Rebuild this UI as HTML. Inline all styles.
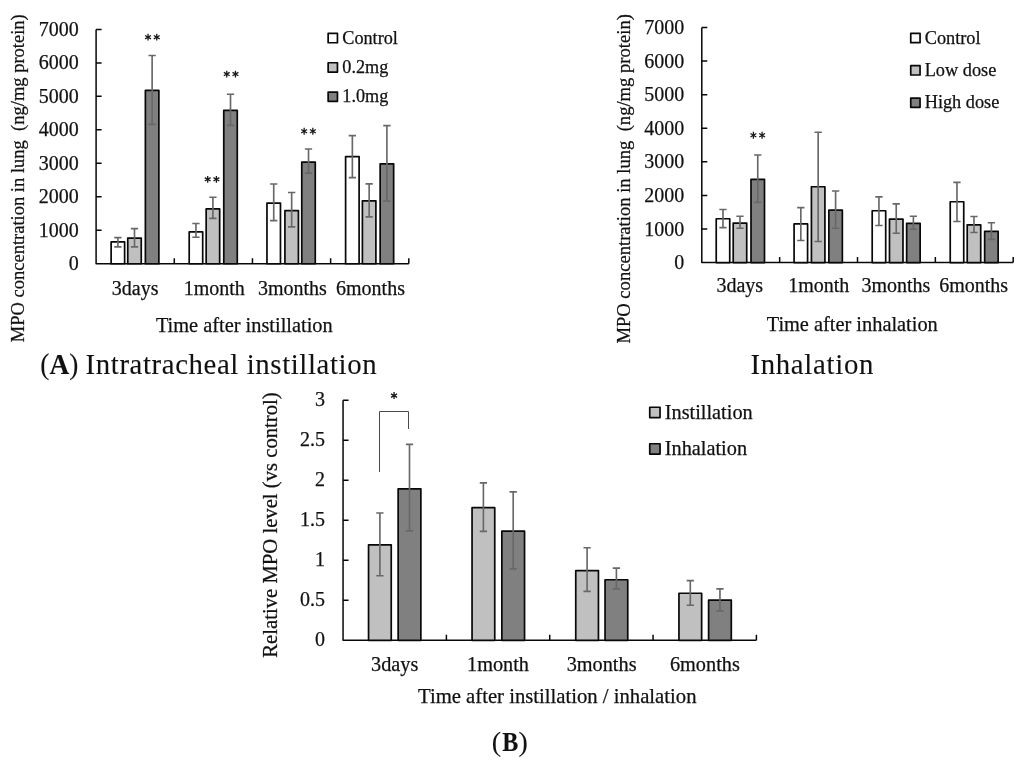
<!DOCTYPE html>
<html><head><meta charset="utf-8"><style>
html,body{margin:0;padding:0;background:#fff;width:1024px;height:763px;overflow:hidden}
svg{display:block;will-change:transform}
text{font-family:"Liberation Serif", serif;fill:#111;stroke:#111;stroke-width:0.25px}
</style></head><body>
<svg width="1024" height="763" viewBox="0 0 1024 763">
<path d="M96.1 29.4V263.75H408.8" stroke="#080808" stroke-width="1.5" fill="none" stroke-linejoin="round"/>
<path d="M96.1 29.40H101.6M96.1 62.88H101.6M96.1 96.36H101.6M96.1 129.84H101.6M96.1 163.31H101.6M96.1 196.79H101.6M96.1 230.27H101.6M174.28 263.75V258.25M252.45 263.75V258.25M330.62 263.75V258.25M408.80 263.75V258.25" stroke="#080808" stroke-width="1.5" fill="none"/>
<text x="78.8" y="35.9" font-size="20" text-anchor="end" font-weight="normal">7000</text>
<text x="78.8" y="69.37857142857143" font-size="20" text-anchor="end" font-weight="normal">6000</text>
<text x="78.8" y="102.85714285714286" font-size="20" text-anchor="end" font-weight="normal">5000</text>
<text x="78.8" y="136.3357142857143" font-size="20" text-anchor="end" font-weight="normal">4000</text>
<text x="78.8" y="169.81428571428572" font-size="20" text-anchor="end" font-weight="normal">3000</text>
<text x="78.8" y="203.29285714285714" font-size="20" text-anchor="end" font-weight="normal">2000</text>
<text x="78.8" y="236.77142857142857" font-size="20" text-anchor="end" font-weight="normal">1000</text>
<text x="78.8" y="270.25" font-size="20" text-anchor="end" font-weight="normal">0</text>
<rect x="111.12" y="241.95" width="13.50" height="21.80" fill="#ffffff" stroke="#080808" stroke-width="1.7" stroke-linejoin="round"/>
<rect x="127.75" y="238.05" width="13.50" height="25.70" fill="#c0c0c0" stroke="#080808" stroke-width="1.7" stroke-linejoin="round"/>
<rect x="145.38" y="90.45" width="13.50" height="173.30" fill="#808080" stroke="#080808" stroke-width="1.7" stroke-linejoin="round"/>
<path d="M117.87 237.60V246.80M114.22 237.60H121.52M114.22 246.80H121.52" stroke="#686868" stroke-width="1.65" fill="none"/>
<path d="M134.50 228.60V246.80M130.85 228.60H138.15M130.85 246.80H138.15" stroke="#686868" stroke-width="1.65" fill="none"/>
<path d="M152.13 55.50V124.30M148.48 55.50H155.78M148.48 124.30H155.78" stroke="#686868" stroke-width="1.65" fill="none"/>
<rect x="189.20" y="231.85" width="13.50" height="31.90" fill="#ffffff" stroke="#080808" stroke-width="1.7" stroke-linejoin="round"/>
<rect x="206.16" y="208.95" width="13.50" height="54.80" fill="#c0c0c0" stroke="#080808" stroke-width="1.7" stroke-linejoin="round"/>
<rect x="223.77" y="110.45" width="13.50" height="153.30" fill="#808080" stroke="#080808" stroke-width="1.7" stroke-linejoin="round"/>
<path d="M195.95 223.50V237.20M192.30 223.50H199.60M192.30 237.20H199.60" stroke="#686868" stroke-width="1.65" fill="none"/>
<path d="M212.91 197.20V218.30M209.26 197.20H216.56M209.26 218.30H216.56" stroke="#686868" stroke-width="1.65" fill="none"/>
<path d="M230.52 94.20V125.30M226.87 94.20H234.17M226.87 125.30H234.17" stroke="#686868" stroke-width="1.65" fill="none"/>
<rect x="266.97" y="203.05" width="13.50" height="60.70" fill="#ffffff" stroke="#080808" stroke-width="1.7" stroke-linejoin="round"/>
<rect x="284.92" y="210.55" width="13.50" height="53.20" fill="#c0c0c0" stroke="#080808" stroke-width="1.7" stroke-linejoin="round"/>
<rect x="301.77" y="162.05" width="13.50" height="101.70" fill="#808080" stroke="#080808" stroke-width="1.7" stroke-linejoin="round"/>
<path d="M273.72 184.00V220.60M270.07 184.00H277.37M270.07 220.60H277.37" stroke="#686868" stroke-width="1.65" fill="none"/>
<path d="M291.67 192.50V226.90M288.02 192.50H295.32M288.02 226.90H295.32" stroke="#686868" stroke-width="1.65" fill="none"/>
<path d="M308.52 149.00V173.10M304.87 149.00H312.17M304.87 173.10H312.17" stroke="#686868" stroke-width="1.65" fill="none"/>
<rect x="345.61" y="156.55" width="13.50" height="107.20" fill="#ffffff" stroke="#080808" stroke-width="1.7" stroke-linejoin="round"/>
<rect x="362.40" y="200.85" width="13.50" height="62.90" fill="#c0c0c0" stroke="#080808" stroke-width="1.7" stroke-linejoin="round"/>
<rect x="380.15" y="163.85" width="13.50" height="99.90" fill="#808080" stroke="#080808" stroke-width="1.7" stroke-linejoin="round"/>
<path d="M352.36 135.60V177.60M348.71 135.60H356.01M348.71 177.60H356.01" stroke="#686868" stroke-width="1.65" fill="none"/>
<path d="M369.15 183.80V216.90M365.50 183.80H372.80M365.50 216.90H372.80" stroke="#686868" stroke-width="1.65" fill="none"/>
<path d="M386.90 125.60V201.00M383.25 125.60H390.55M383.25 201.00H390.55" stroke="#686868" stroke-width="1.65" fill="none"/>
<text x="135.2" y="294.6" font-size="20" text-anchor="middle" font-weight="normal">3days</text>
<text x="214.3" y="294.6" font-size="20" text-anchor="middle" font-weight="normal">1month</text>
<text x="292.4" y="294.6" font-size="20" text-anchor="middle" font-weight="normal">3months</text>
<text x="370.5" y="294.6" font-size="20" text-anchor="middle" font-weight="normal">6months</text>
<text x="155.9" y="331.7" font-size="20.37" text-anchor="start" font-weight="normal">Time after instillation</text>
<text transform="translate(23.9 342.3) rotate(-90)" font-size="18.52" xml:space="preserve">MPO concentration in lung  (ng/mg protein)</text>
<path d="M148.05 33.80V40.60M145.11 35.50L150.99 38.90M145.11 38.90L150.99 35.50" stroke="#1a1a1a" stroke-width="1.3" fill="none"/>
<path d="M156.75 33.80V40.60M153.81 35.50L159.69 38.90M153.81 38.90L159.69 35.50" stroke="#1a1a1a" stroke-width="1.3" fill="none"/>
<path d="M207.70 175.95V182.75M204.76 177.65L210.64 181.05M204.76 181.05L210.64 177.65" stroke="#1a1a1a" stroke-width="1.3" fill="none"/>
<path d="M216.40 175.95V182.75M213.46 177.65L219.34 181.05M213.46 181.05L219.34 177.65" stroke="#1a1a1a" stroke-width="1.3" fill="none"/>
<path d="M226.75 70.70V77.50M223.81 72.40L229.69 75.80M223.81 75.80L229.69 72.40" stroke="#1a1a1a" stroke-width="1.3" fill="none"/>
<path d="M235.45 70.70V77.50M232.51 72.40L238.39 75.80M232.51 75.80L238.39 72.40" stroke="#1a1a1a" stroke-width="1.3" fill="none"/>
<path d="M304.15 127.85V134.65M301.21 129.55L307.09 132.95M301.21 132.95L307.09 129.55" stroke="#1a1a1a" stroke-width="1.3" fill="none"/>
<path d="M312.85 127.85V134.65M309.91 129.55L315.79 132.95M309.91 132.95L315.79 129.55" stroke="#1a1a1a" stroke-width="1.3" fill="none"/>
<rect x="328.15" y="33.45" width="9.30" height="9.30" fill="#ffffff" stroke="#080808" stroke-width="1.7" stroke-linejoin="round"/>
<text x="342.3" y="43.5" font-size="18.2" text-anchor="start" font-weight="normal">Control</text>
<rect x="328.15" y="62.75" width="9.30" height="9.30" fill="#c0c0c0" stroke="#080808" stroke-width="1.7" stroke-linejoin="round"/>
<text x="342.3" y="72.80000000000001" font-size="18.2" text-anchor="start" font-weight="normal">0.2mg</text>
<rect x="328.15" y="92.05" width="9.30" height="9.30" fill="#808080" stroke="#080808" stroke-width="1.7" stroke-linejoin="round"/>
<text x="342.3" y="102.10000000000001" font-size="18.2" text-anchor="start" font-weight="normal">1.0mg</text>
<path d="M701.8 27.5V262.6H1013.2" stroke="#080808" stroke-width="1.5" fill="none" stroke-linejoin="round"/>
<path d="M701.8 27.50H707.3M701.8 61.09H707.3M701.8 94.67H707.3M701.8 128.26H707.3M701.8 161.84H707.3M701.8 195.43H707.3M701.8 229.01H707.3M779.65 262.6V257.1M857.50 262.6V257.1M935.35 262.6V257.1M1013.20 262.6V257.1" stroke="#080808" stroke-width="1.5" fill="none"/>
<text x="684.2" y="34.0" font-size="20" text-anchor="end" font-weight="normal">7000</text>
<text x="684.2" y="67.58571428571429" font-size="20" text-anchor="end" font-weight="normal">6000</text>
<text x="684.2" y="101.17142857142858" font-size="20" text-anchor="end" font-weight="normal">5000</text>
<text x="684.2" y="134.75714285714287" font-size="20" text-anchor="end" font-weight="normal">4000</text>
<text x="684.2" y="168.34285714285716" font-size="20" text-anchor="end" font-weight="normal">3000</text>
<text x="684.2" y="201.92857142857144" font-size="20" text-anchor="end" font-weight="normal">2000</text>
<text x="684.2" y="235.51428571428573" font-size="20" text-anchor="end" font-weight="normal">1000</text>
<text x="684.2" y="269.1" font-size="20" text-anchor="end" font-weight="normal">0</text>
<rect x="716.23" y="218.75" width="13.50" height="43.85" fill="#ffffff" stroke="#080808" stroke-width="1.7" stroke-linejoin="round"/>
<rect x="733.22" y="223.05" width="13.50" height="39.55" fill="#c0c0c0" stroke="#080808" stroke-width="1.7" stroke-linejoin="round"/>
<rect x="751.00" y="179.35" width="13.50" height="83.25" fill="#808080" stroke="#080808" stroke-width="1.7" stroke-linejoin="round"/>
<path d="M722.98 209.50V227.60M719.33 209.50H726.63M719.33 227.60H726.63" stroke="#686868" stroke-width="1.65" fill="none"/>
<path d="M739.97 216.20V228.20M736.32 216.20H743.62M736.32 228.20H743.62" stroke="#686868" stroke-width="1.65" fill="none"/>
<path d="M757.75 155.00V202.40M754.10 155.00H761.40M754.10 202.40H761.40" stroke="#686868" stroke-width="1.65" fill="none"/>
<rect x="794.08" y="223.95" width="13.50" height="38.65" fill="#ffffff" stroke="#080808" stroke-width="1.7" stroke-linejoin="round"/>
<rect x="811.42" y="186.75" width="13.50" height="75.85" fill="#c0c0c0" stroke="#080808" stroke-width="1.7" stroke-linejoin="round"/>
<rect x="828.85" y="210.15" width="13.50" height="52.45" fill="#808080" stroke="#080808" stroke-width="1.7" stroke-linejoin="round"/>
<path d="M800.83 207.60V240.50M797.18 207.60H804.48M797.18 240.50H804.48" stroke="#686868" stroke-width="1.65" fill="none"/>
<path d="M818.17 132.20V241.50M814.52 132.20H821.82M814.52 241.50H821.82" stroke="#686868" stroke-width="1.65" fill="none"/>
<path d="M835.60 191.00V228.20M831.95 191.00H839.25M831.95 228.20H839.25" stroke="#686868" stroke-width="1.65" fill="none"/>
<rect x="872.20" y="210.75" width="13.50" height="51.85" fill="#ffffff" stroke="#080808" stroke-width="1.7" stroke-linejoin="round"/>
<rect x="889.48" y="219.05" width="13.50" height="43.55" fill="#c0c0c0" stroke="#080808" stroke-width="1.7" stroke-linejoin="round"/>
<rect x="906.64" y="223.35" width="13.50" height="39.25" fill="#808080" stroke="#080808" stroke-width="1.7" stroke-linejoin="round"/>
<path d="M878.95 196.80V225.50M875.30 196.80H882.60M875.30 225.50H882.60" stroke="#686868" stroke-width="1.65" fill="none"/>
<path d="M896.23 203.90V233.20M892.58 203.90H899.88M892.58 233.20H899.88" stroke="#686868" stroke-width="1.65" fill="none"/>
<path d="M913.39 216.20V229.20M909.74 216.20H917.04M909.74 229.20H917.04" stroke="#686868" stroke-width="1.65" fill="none"/>
<rect x="950.23" y="201.75" width="13.50" height="60.85" fill="#ffffff" stroke="#080808" stroke-width="1.7" stroke-linejoin="round"/>
<rect x="967.22" y="224.85" width="13.50" height="37.75" fill="#c0c0c0" stroke="#080808" stroke-width="1.7" stroke-linejoin="round"/>
<rect x="984.65" y="231.35" width="13.50" height="31.25" fill="#808080" stroke="#080808" stroke-width="1.7" stroke-linejoin="round"/>
<path d="M956.98 182.40V221.50M953.33 182.40H960.63M953.33 221.50H960.63" stroke="#686868" stroke-width="1.65" fill="none"/>
<path d="M973.97 216.50V232.50M970.32 216.50H977.62M970.32 232.50H977.62" stroke="#686868" stroke-width="1.65" fill="none"/>
<path d="M991.40 222.70V239.30M987.75 222.70H995.05M987.75 239.30H995.05" stroke="#686868" stroke-width="1.65" fill="none"/>
<text x="739.8" y="292.3" font-size="20" text-anchor="middle" font-weight="normal">3days</text>
<text x="818.8" y="292.3" font-size="20" text-anchor="middle" font-weight="normal">1month</text>
<text x="895.9" y="292.3" font-size="20" text-anchor="middle" font-weight="normal">3months</text>
<text x="973.7" y="292.3" font-size="20" text-anchor="middle" font-weight="normal">6months</text>
<text x="937.8" y="331.0" font-size="20.37" text-anchor="end" font-weight="normal">Time after inhalation</text>
<text transform="translate(630.3 343.6) rotate(-90)" font-size="18.6" xml:space="preserve">MPO concentration in lung  (ng/mg protein)</text>
<path d="M753.40 131.85V138.65M750.46 133.55L756.34 136.95M750.46 136.95L756.34 133.55" stroke="#1a1a1a" stroke-width="1.3" fill="none"/>
<path d="M762.10 131.85V138.65M759.16 133.55L765.04 136.95M759.16 136.95L765.04 133.55" stroke="#1a1a1a" stroke-width="1.3" fill="none"/>
<rect x="910.75" y="33.35" width="9.30" height="9.30" fill="#ffffff" stroke="#080808" stroke-width="1.7" stroke-linejoin="round"/>
<text x="924.7" y="43.5" font-size="18.3" text-anchor="start" font-weight="normal">Control</text>
<rect x="910.75" y="65.70" width="9.30" height="9.30" fill="#c0c0c0" stroke="#080808" stroke-width="1.7" stroke-linejoin="round"/>
<text x="924.7" y="75.85" font-size="18.3" text-anchor="start" font-weight="normal">Low dose</text>
<rect x="910.75" y="98.05" width="9.30" height="9.30" fill="#808080" stroke="#080808" stroke-width="1.7" stroke-linejoin="round"/>
<text x="924.7" y="108.2" font-size="18.3" text-anchor="start" font-weight="normal">High dose</text>
<text x="40.3" y="373.5" font-size="28.8" textLength="38" lengthAdjust="spacingAndGlyphs" style="stroke-width:0.1px">(<tspan font-weight="bold">A</tspan>)</text>
<text x="85.6" y="373.5" font-size="28.8" textLength="291" lengthAdjust="spacing" style="stroke-width:0.1px">Intratracheal instillation</text>
<text x="750.4" y="373.6" font-size="28.8" textLength="123" lengthAdjust="spacing" style="stroke-width:0.1px">Inhalation</text>
<path d="M343.05 400.2V640.3H756.4" stroke="#080808" stroke-width="1.5" fill="none" stroke-linejoin="round"/>
<path d="M343.05 400.20H348.55M343.05 440.22H348.55M343.05 480.23H348.55M343.05 520.25H348.55M343.05 560.27H348.55M343.05 600.28H348.55M446.39 640.3V634.8M549.73 640.3V634.8M653.06 640.3V634.8M756.40 640.3V634.8" stroke="#080808" stroke-width="1.5" fill="none"/>
<text x="325" y="406.3" font-size="20" text-anchor="end" font-weight="normal">3</text>
<text x="325" y="446.31666666666666" font-size="20" text-anchor="end" font-weight="normal">2.5</text>
<text x="325" y="486.3333333333333" font-size="20" text-anchor="end" font-weight="normal">2</text>
<text x="325" y="526.35" font-size="20" text-anchor="end" font-weight="normal">1.5</text>
<text x="325" y="566.3666666666667" font-size="20" text-anchor="end" font-weight="normal">1</text>
<text x="325" y="606.3833333333333" font-size="20" text-anchor="end" font-weight="normal">0.5</text>
<text x="325" y="646.4" font-size="20" text-anchor="end" font-weight="normal">0</text>
<rect x="368.55" y="544.85" width="22.70" height="95.45" fill="#c0c0c0" stroke="#080808" stroke-width="1.7" stroke-linejoin="round"/>
<rect x="398.15" y="488.85" width="22.70" height="151.45" fill="#808080" stroke="#080808" stroke-width="1.7" stroke-linejoin="round"/>
<path d="M379.90 513.00V575.70M376.25 513.00H383.55M376.25 575.70H383.55" stroke="#686868" stroke-width="1.65" fill="none"/>
<path d="M409.50 444.30V530.90M405.85 444.30H413.15M405.85 530.90H413.15" stroke="#686868" stroke-width="1.65" fill="none"/>
<rect x="472.05" y="507.65" width="22.70" height="132.65" fill="#c0c0c0" stroke="#080808" stroke-width="1.7" stroke-linejoin="round"/>
<rect x="501.85" y="531.15" width="22.70" height="109.15" fill="#808080" stroke="#080808" stroke-width="1.7" stroke-linejoin="round"/>
<path d="M483.40 482.90V531.40M479.75 482.90H487.05M479.75 531.40H487.05" stroke="#686868" stroke-width="1.65" fill="none"/>
<path d="M513.20 491.80V568.80M509.55 491.80H516.85M509.55 568.80H516.85" stroke="#686868" stroke-width="1.65" fill="none"/>
<rect x="575.75" y="570.55" width="22.70" height="69.75" fill="#c0c0c0" stroke="#080808" stroke-width="1.7" stroke-linejoin="round"/>
<rect x="605.05" y="579.75" width="22.70" height="60.55" fill="#808080" stroke="#080808" stroke-width="1.7" stroke-linejoin="round"/>
<path d="M587.10 547.70V591.30M583.45 547.70H590.75M583.45 591.30H590.75" stroke="#686868" stroke-width="1.65" fill="none"/>
<path d="M616.40 568.10V588.80M612.75 568.10H620.05M612.75 588.80H620.05" stroke="#686868" stroke-width="1.65" fill="none"/>
<rect x="678.95" y="593.25" width="22.70" height="47.05" fill="#c0c0c0" stroke="#080808" stroke-width="1.7" stroke-linejoin="round"/>
<rect x="708.60" y="600.15" width="22.70" height="40.15" fill="#808080" stroke="#080808" stroke-width="1.7" stroke-linejoin="round"/>
<path d="M690.30 580.60V605.20M686.65 580.60H693.95M686.65 605.20H693.95" stroke="#686868" stroke-width="1.65" fill="none"/>
<path d="M719.95 588.80V610.90M716.30 588.80H723.60M716.30 610.90H723.60" stroke="#686868" stroke-width="1.65" fill="none"/>
<text x="394.7" y="671.3" font-size="20.3" text-anchor="middle" font-weight="normal">3days</text>
<text x="498.0" y="671.3" font-size="20.3" text-anchor="middle" font-weight="normal">1month</text>
<text x="601.6" y="671.3" font-size="20.3" text-anchor="middle" font-weight="normal">3months</text>
<text x="704.9" y="671.3" font-size="20.3" text-anchor="middle" font-weight="normal">6months</text>
<text x="418" y="702.7" font-size="20.7" text-anchor="start" font-weight="normal">Time after instillation / inhalation</text>
<text transform="translate(277.3 657.7) rotate(-90)" font-size="20.7">Relative MPO level (vs control)</text>
<path d="M379.5 472V411.5H408.5V429" stroke="#4a4a4a" stroke-width="1" fill="none"/>
<path d="M394.05 392.10V399.10M391.02 393.85L397.08 397.35M391.02 397.35L397.08 393.85" stroke="#1a1a1a" stroke-width="1.3" fill="none"/>
<rect x="649.75" y="407.25" width="10.30" height="10.30" fill="#c0c0c0" stroke="#080808" stroke-width="1.7" stroke-linejoin="round"/>
<text x="664.8" y="418.59999999999997" font-size="20.3" text-anchor="start" font-weight="normal">Instillation</text>
<rect x="649.75" y="443.75" width="10.30" height="10.30" fill="#808080" stroke="#080808" stroke-width="1.7" stroke-linejoin="round"/>
<text x="664.8" y="455.09999999999997" font-size="20.3" text-anchor="start" font-weight="normal">Inhalation</text>
<text x="491.8" y="751.4" font-size="28" style="stroke-width:0.1px">(</text>
<text transform="translate(502.3 751.4) scale(0.86 1)" x="0" y="0" font-size="28" font-weight="bold" style="stroke-width:0.1px">B</text>
<text x="518.6" y="751.4" font-size="28" style="stroke-width:0.1px">)</text>
</svg>
</body></html>
